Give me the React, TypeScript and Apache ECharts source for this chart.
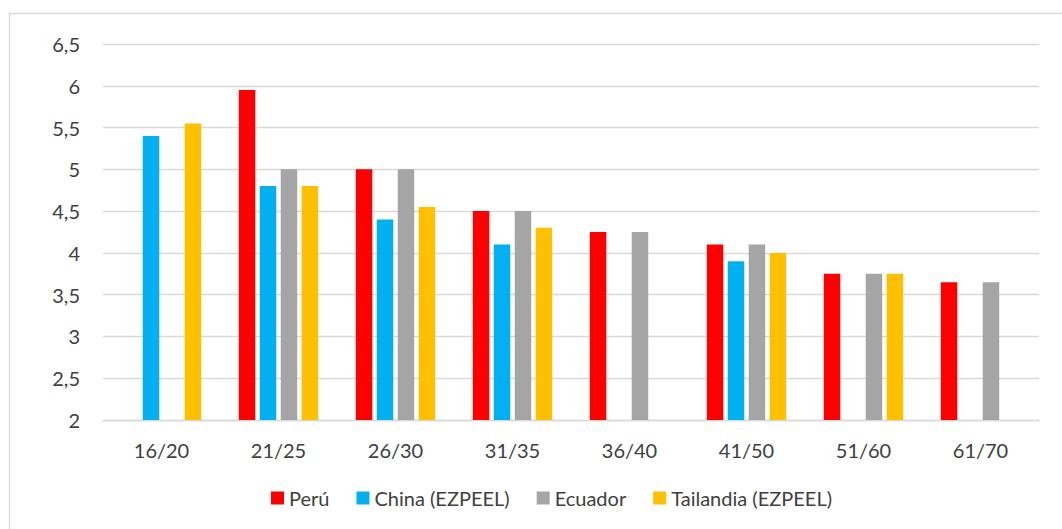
import React, { useEffect, useRef } from "react";
import * as echarts from "echarts";

const categories = ["16/20", "21/25", "26/30", "31/35", "36/40", "41/50", "51/60", "61/70"];
const peru = [null, 5.95, 5.0, 4.5, 4.25, 4.1, 3.75, 3.65];
const china = [5.4, 4.8, 4.4, 4.1, null, 3.9, null, null];
const ecuador = [null, 5.0, 5.0, 4.5, 4.25, 4.1, 3.75, 3.65];
const tailandia = [5.55, 4.8, 4.55, 4.3, null, 4.0, 3.75, null];
const seriesNames = ["Perú", "China (EZPEEL)", "Ecuador", "Tailandia (EZPEEL)"];
const colors = ["#FF0000", "#00B0F0", "#A5A5A5", "#FFC000"];

const FONT = "Lato, 'Open Sans', sans-serif";
const TEXT = "#404040";

export default function App() {
  const ref = useRef<HTMLDivElement>(null);
  useEffect(() => {
    if (!ref.current) return;
    const chart = echarts.init(ref.current, null, { renderer: "svg" });
    const data = [peru, china, ecuador, tailandia];
    chart.setOption({
      animation: false,
      backgroundColor: "#FFFFFF",
      textStyle: { fontFamily: FONT },
      graphic: [
        {
          type: "rect",
          shape: { x: 9.5, y: 13.5, width: 1200, height: 700 },
          style: { fill: "none", stroke: "#D9D9D9", lineWidth: 1.3 },
          silent: true,
        },
      ],
      grid: { left: 103, right: 23, top: 44, bottom: 109, containLabel: false },
      legend: {
        data: seriesNames,
        left: 266,
        top: 483,
        icon: "rect",
        itemWidth: 13,
        itemHeight: 13,
        itemGap: 27,
        textStyle: { color: TEXT, fontSize: 20, fontFamily: FONT },
      },
      xAxis: {
        type: "category",
        data: categories,
        axisTick: { show: false },
        axisLine: { lineStyle: { color: "#D9D9D9", width: 1.3 } },
        axisLabel: { color: TEXT, fontSize: 20, margin: 20, fontFamily: FONT },
      },
      yAxis: {
        type: "value",
        min: 2,
        max: 6.5,
        interval: 0.5,
        axisLine: { show: false },
        axisTick: { show: false },
        splitLine: { lineStyle: { color: "#D9D9D9", width: 1.3 } },
        axisLabel: {
          color: TEXT,
          fontSize: 20,
          margin: 23,
          fontFamily: FONT,
          formatter: (v: number) => String(v).replace(".", ","),
        },
      },
      series: seriesNames.map((name, i) => ({
        name,
        type: "bar",
        data: data[i],
        barWidth: 16.5,
        barGap: "27%",
        itemStyle: { color: colors[i] },
      })),
    });
    return () => chart.dispose();
  }, []);
  return (
    <div
      ref={ref}
      style={{ position: "fixed", left: 0, top: 0, width: 1062, height: 529 }}
    />
  );
}
